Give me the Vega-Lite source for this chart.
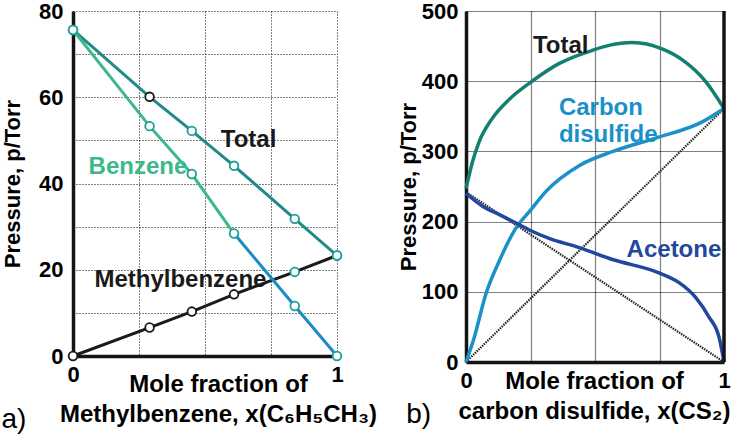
{
  "$schema": "https://vega.github.io/schema/vega-lite/v6.json",
  "background": "white",
  "padding": {"left": 1, "top": 0, "right": 0, "bottom": 0},
  "bounds": "flush",
  "spacing": 129,
  "config": {
    "font": "Liberation Sans",
    "view": {"stroke": null},
    "axis": {
      "labelFont": "Liberation Sans", "labelFontWeight": "bold", "labelFontSize": 22, "labelColor": "#000",
      "titleFont": "Liberation Sans", "titleFontWeight": "bold", "titleFontSize": 22, "titleColor": "#000",
      "ticks": false, "domainColor": "#151515", "domainWidth": 3.5,
      "gridColor": "#000", "gridDash": [1, 2], "gridWidth": 1, "gridOpacity": 1,
      "labelPadding": 8, "labelFlush": false
    },
    "title": {"font": "Liberation Sans", "color": "#000"}
  },
  "datasets": {
    "a": [
      {"series": "Total", "x": 0, "p": 75.6},
      {"series": "Total", "x": 0.29, "p": 60.1},
      {"series": "Total", "x": 0.45, "p": 52.2},
      {"series": "Total", "x": 0.61, "p": 44.1},
      {"series": "Total", "x": 0.84, "p": 31.8},
      {"series": "Total", "x": 1, "p": 23.3},
      {"series": "Benzene", "x": 0, "p": 75.6},
      {"series": "Benzene", "x": 0.29, "p": 53.3},
      {"series": "Benzene", "x": 0.45, "p": 42.2},
      {"series": "Benzene", "x": 0.61, "p": 28.4},
      {"series": "Benzene", "x": 0.84, "p": 11.6},
      {"series": "Benzene", "x": 1, "p": 0},
      {"series": "Methylbenzene", "x": 0, "p": 0},
      {"series": "Methylbenzene", "x": 0.29, "p": 6.6},
      {"series": "Methylbenzene", "x": 0.45, "p": 10.3},
      {"series": "Methylbenzene", "x": 0.61, "p": 14.3},
      {"series": "Methylbenzene", "x": 0.84, "p": 19.5},
      {"series": "Methylbenzene", "x": 1, "p": 23.3}
    ],
    "b": [
      {"series": "Total", "x": 0, "p": 247},
      {"series": "Total", "x": 0.025, "p": 285},
      {"series": "Total", "x": 0.05, "p": 313},
      {"series": "Total", "x": 0.1, "p": 346},
      {"series": "Total", "x": 0.17, "p": 375},
      {"series": "Total", "x": 0.26, "p": 401},
      {"series": "Total", "x": 0.36, "p": 425},
      {"series": "Total", "x": 0.49, "p": 444},
      {"series": "Total", "x": 0.555, "p": 451},
      {"series": "Total", "x": 0.645, "p": 455},
      {"series": "Total", "x": 0.76, "p": 446},
      {"series": "Total", "x": 0.84, "p": 430},
      {"series": "Total", "x": 0.93, "p": 399},
      {"series": "Total", "x": 1, "p": 361},
      {"series": "Carbon disulfide", "x": 0, "p": 0},
      {"series": "Carbon disulfide", "x": 0.032, "p": 35},
      {"series": "Carbon disulfide", "x": 0.077, "p": 97},
      {"series": "Carbon disulfide", "x": 0.129, "p": 144},
      {"series": "Carbon disulfide", "x": 0.194, "p": 191},
      {"series": "Carbon disulfide", "x": 0.252, "p": 217},
      {"series": "Carbon disulfide", "x": 0.31, "p": 243},
      {"series": "Carbon disulfide", "x": 0.44, "p": 280},
      {"series": "Carbon disulfide", "x": 0.57, "p": 300},
      {"series": "Carbon disulfide", "x": 0.735, "p": 319},
      {"series": "Carbon disulfide", "x": 0.916, "p": 342},
      {"series": "Carbon disulfide", "x": 1, "p": 361},
      {"series": "Acetone", "x": 0, "p": 240},
      {"series": "Acetone", "x": 0.064, "p": 222},
      {"series": "Acetone", "x": 0.129, "p": 210},
      {"series": "Acetone", "x": 0.194, "p": 198},
      {"series": "Acetone", "x": 0.252, "p": 187},
      {"series": "Acetone", "x": 0.322, "p": 176},
      {"series": "Acetone", "x": 0.439, "p": 163},
      {"series": "Acetone", "x": 0.568, "p": 146},
      {"series": "Acetone", "x": 0.748, "p": 127},
      {"series": "Acetone", "x": 0.826, "p": 113},
      {"series": "Acetone", "x": 0.89, "p": 92},
      {"series": "Acetone", "x": 0.942, "p": 64},
      {"series": "Acetone", "x": 0.981, "p": 35},
      {"series": "Acetone", "x": 1, "p": 0}
    ],
    "b_ideal": [
      {"series": "Carbon disulfide (ideal)", "x": 0, "p": 0},
      {"series": "Carbon disulfide (ideal)", "x": 1, "p": 361},
      {"series": "Acetone (ideal)", "x": 0, "p": 242},
      {"series": "Acetone (ideal)", "x": 1, "p": 0}
    ]
  },
  "hconcat": [
    {
      "width": 264,
      "height": 345,
      "title": {"text": "a)", "orient": "bottom", "anchor": "start", "frame": "bounds", "fontSize": 28, "fontWeight": "normal", "offset": -20},
      "encoding": {
        "x": {
          "field": "x", "type": "quantitative",
          "scale": {"domain": [0, 1], "nice": false},
          "axis": {
            "values": [0, 0.25, 0.5, 0.75, 1],
            "labelExpr": "datum.value == 0 ? '0' : (datum.value == 1 ? '1' : '')",
            "title": ["Mole fraction of", "Methylbenzene, x(C₆H₅CH₃)"],
            "titleFontSize": 24,
            "titleLineHeight": 30, "titleBaseline": "top", "titleAlign": "center",
            "titleX": 145, "titleY": 16
          }
        },
        "y": {
          "field": "p", "type": "quantitative",
          "scale": {"domain": [0, 80], "nice": false},
          "axis": {
            "values": [0, 10, 20, 30, 40, 50, 60, 70, 80],
            "labelExpr": "datum.value % 20 == 0 ? datum.label : ''",
            "title": "Pressure, p/Torr", "titlePadding": 14, "labelPadding": 10
          }
        }
      },
      "layer": [
        {"data": {"name": "a"}, "transform": [{"filter": "datum.series == 'Total'"}],
         "mark": {"type": "line", "color": "#1e8b86", "strokeWidth": 3}},
        {"data": {"name": "a"}, "transform": [{"filter": "datum.series == 'Methylbenzene'"}],
         "mark": {"type": "line", "color": "#1a1a1a", "strokeWidth": 3}},
        {"data": {"name": "a"}, "transform": [{"filter": "datum.series == 'Benzene' && datum.x <= 0.61"}],
         "mark": {"type": "line", "color": "#3cb88a", "strokeWidth": 3}},
        {"data": {"name": "a"}, "transform": [{"filter": "datum.series == 'Benzene' && datum.x >= 0.61"}],
         "mark": {"type": "line", "color": "#1a8bc6", "strokeWidth": 3}},
        {"data": {"name": "a"},
         "transform": [{"filter": "!((datum.series == 'Methylbenzene' && datum.x < 0.7) || (datum.series == 'Total' && datum.x == 0.29))"}],
         "mark": {"type": "point", "shape": "circle", "filled": true, "fill": "white", "stroke": "#1a9d98", "strokeWidth": 1.8, "size": 75, "opacity": 1}},
        {"data": {"name": "a"},
         "transform": [{"filter": "(datum.series == 'Methylbenzene' && datum.x < 0.7) || (datum.series == 'Total' && datum.x == 0.29)"}],
         "mark": {"type": "point", "shape": "circle", "filled": true, "fill": "white", "stroke": "#1a1a1a", "strokeWidth": 1.8, "size": 75, "opacity": 1}},
        {"data": {"values": [{"x": 0.665, "p": 50.1, "label": "Total"}, {"x": 0.407, "p": 17.6, "label": "Methylbenzene"}]},
         "mark": {"type": "text", "font": "Liberation Sans", "fontWeight": "bold", "fontSize": 24, "color": "#1a1a1a", "align": "center", "baseline": "middle"},
         "encoding": {"text": {"field": "label"}}},
        {"data": {"values": [{"x": 0.246, "p": 43.9, "label": "Benzene"}]},
         "mark": {"type": "text", "font": "Liberation Sans", "fontWeight": "bold", "fontSize": 24, "color": "#3cb88a", "align": "center", "baseline": "middle"},
         "encoding": {"text": {"field": "label"}}}
      ]
    },
    {
      "width": 258,
      "height": 351,
      "title": {"text": "b)", "orient": "bottom", "anchor": "start", "frame": "bounds", "fontSize": 28, "fontWeight": "normal", "offset": -22, "dx": 9},
      "encoding": {
        "x": {
          "field": "x", "type": "quantitative",
          "scale": {"domain": [0, 1], "nice": false},
          "axis": {
            "values": [0, 0.25, 0.5, 0.75, 1],
            "labelExpr": "datum.value == 0 ? '0' : (datum.value == 1 ? '1' : '')",
            "title": ["Mole fraction of", "carbon disulfide, x(CS₂)"],
            "titleFontSize": 24,
            "titleLineHeight": 30, "titleBaseline": "top", "titleAlign": "center",
            "titleX": 128, "titleY": 7,
            "gridDash": [1, 1], "gridWidth": 1.2
          }
        },
        "y": {
          "field": "p", "type": "quantitative",
          "scale": {"domain": [0, 500], "nice": false},
          "axis": {
            "values": [0, 100, 200, 300, 400, 500],
            "title": "Pressure, p/Torr", "titlePadding": 1, "labelPadding": 8,
            "gridDash": [1, 1], "gridWidth": 1.2
          }
        }
      },
      "layer": [
        {"data": {"name": "b_ideal"},
         "mark": {"type": "line", "color": "#222", "strokeWidth": 2.2, "strokeDash": [1.5, 1]},
         "encoding": {"detail": {"field": "series"}}},
        {"data": {"name": "b"},
         "mark": {"type": "line", "strokeWidth": 3.5, "interpolate": "monotone"},
         "encoding": {"color": {"field": "series", "type": "nominal",
           "scale": {"domain": ["Total", "Carbon disulfide", "Acetone"], "range": ["#137f70", "#1a91c9", "#22479f"]},
           "legend": null}}},
        {"data": {"values": [{"x": 1, "p": 0, "p2": 500}]},
         "mark": {"type": "rule", "color": "#151515", "strokeWidth": 3.5},
         "encoding": {"y2": {"field": "p2"}}},
        {"data": {"values": [{"x": 0.367, "p": 450, "label": "Total"}]},
         "mark": {"type": "text", "font": "Liberation Sans", "fontWeight": "bold", "fontSize": 24, "color": "#1a1a1a", "align": "center", "baseline": "middle"},
         "encoding": {"text": {"field": "label"}}},
        {"data": {"values": [{"x": 0.36, "p": 362, "label": "Carbon"}, {"x": 0.36, "p": 323, "label": "disulfide"}]},
         "mark": {"type": "text", "font": "Liberation Sans", "fontWeight": "bold", "fontSize": 24, "color": "#1a8fc8", "align": "left", "baseline": "middle"},
         "encoding": {"text": {"field": "label"}}},
        {"data": {"values": [{"x": 0.806, "p": 160, "label": "Acetone"}]},
         "mark": {"type": "text", "font": "Liberation Sans", "fontWeight": "bold", "fontSize": 24, "color": "#22479f", "align": "center", "baseline": "middle"},
         "encoding": {"text": {"field": "label"}}}
      ]
    }
  ]
}
